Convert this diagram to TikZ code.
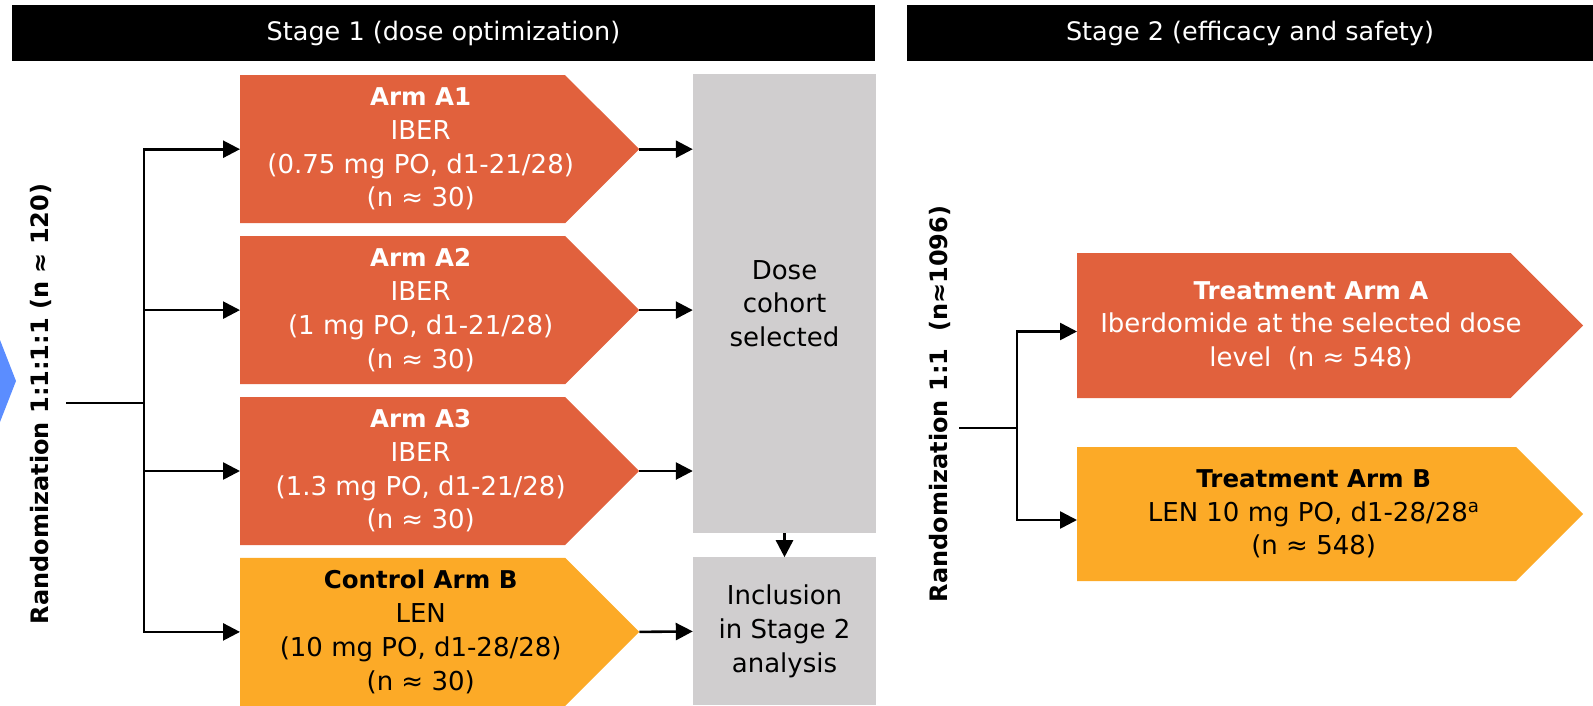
\documentclass[tikz,border=0pt]{standalone}
\usepackage{fontspec}
\setmainfont{DejaVu Sans}
\usepackage{tikz}
\usetikzlibrary{arrows.meta,positioning,shapes.symbols,calc}
\definecolor{armred}{RGB}{225,97,61}
\definecolor{armgold}{RGB}{252,170,39}
\definecolor{boxgrey}{RGB}{208,206,207}
\definecolor{prevblue}{RGB}{91,141,255}
\newcommand{\armhead}[1]{{\fontsize{24.5}{33.7}\selectfont\bfseries #1}}
\tikzset{
  txt/.style      ={font=\fontsize{26}{33.7}\selectfont},
  header/.style   ={font=\fontsize{25.5}{30}\selectfont,fill=black,text=white,minimum height=56pt,inner sep=0pt},
  armbox/.style   ={shape=signal,signal to=east,signal pointer angle=90,inner sep=0pt,
                    minimum width=399pt,minimum height=148pt},
  redarm/.style   ={armbox,fill=armred},
  goldarm/.style  ={armbox,fill=armgold},
  armtxt/.style   ={txt,align=center,inner sep=0pt},
  greybox/.style  ={txt,fill=boxgrey,align=center,minimum width=183pt,inner sep=0pt},
  randlabel/.style={font=\fontsize{24}{30}\selectfont\bfseries,rotate=90},
  link/.style     ={line width=2.6pt},
  arrow/.style    ={link,-{Triangle[length=17pt,width=17pt]}}
}

\begin{document}
\begin{tikzpicture}[x=1pt,y=-1pt]
    \useasboundingbox (0,0) rectangle (1593,705);
    \node[header,minimum width=863pt] (st1) at (443.5,33) {Stage 1 (dose optimization)};
    \node[header,minimum width=686pt] (st2) at (1250,33) {Stage 2 (efficacy and safety)};
    \fill[prevblue] (0,340) -- (16,381) -- (0,422) -- cycle;
    \node[randlabel] (r1) at (41,404) {Randomization 1:1:1:1 (n ≈ 120)};
    \node[redarm,anchor=north west] (a1) at (240,75) {};
    \node[redarm,below=12.5pt of a1]  (a2) {};
    \node[redarm,below=12.5pt of a2]  (a3) {};
    \node[goldarm,below=12.5pt of a3] (cb) {};
    \node[armtxt,text=white] (a1t) at ([xshift=18pt]a1.center) {\armhead{Arm A1}\\IBER\\(0.75 mg PO, d1-21/28)\\(n ≈ 30)};
    \node[armtxt,text=white] (a2t) at ([xshift=18pt]a2.center) {\armhead{Arm A2}\\IBER\\(1 mg PO, d1-21/28)\\(n ≈ 30)};
    \node[armtxt,text=white] (a3t) at ([xshift=18pt]a3.center) {\armhead{Arm A3}\\IBER\\(1.3 mg PO, d1-21/28)\\(n ≈ 30)};
    \node[armtxt] (cbt) at ([xshift=18pt]cb.center) {\armhead{Control Arm B}\\LEN\\(10 mg PO, d1-28/28)\\(n ≈ 30)};
    \node[greybox,minimum height=459pt] (g1) at (784.5,303.5) {Dose\\cohort\\selected};
    \node[greybox,minimum height=148pt,below=24pt of g1] (g2) {Inclusion\\in Stage 2\\analysis};
    \coordinate (s1) at (66,403);
    \coordinate (k1) at (144,403);
    \draw[link] (s1) -- (k1);
    \foreach \n in {a1,a2,a3,cb} \draw[arrow] (k1) |- (\n.west);
    \foreach \n in {a1,a2,a3} \draw[arrow] (\n.east) -- (\n.east -| g1.west);
    \draw[arrow] (cb.east) -- (g2.west);
    \draw[arrow] (g1.south) -- (g2.north);
    \node[randlabel] (r2) at (940,404) {Randomization 1:1\ \ (n≈1096)};
    \node[redarm,minimum width=506pt,minimum height=145pt,anchor=west] (ta) at (1077,325.5) {};
    \node[goldarm,minimum width=506pt,minimum height=134pt,anchor=west] (tb) at (1077,514) {};
    \node[armtxt,text=white] (tat) at ([xshift=17pt]ta.center)
      {\armhead{Treatment Arm A}\\Iberdomide at the selected dose\\level\ \ (n ≈ 548)};
    \node[armtxt] (tbt) at ([xshift=17pt]tb.center)
      {\armhead{Treatment Arm B}\\LEN 10 mg PO, d1-28/28\textsuperscript{a}\\(n ≈ 548)};
    \coordinate (s2) at (959,428);
    \coordinate (k2) at (1017,428);
    \draw[link] (s2) -- (k2);
    \draw[arrow] (k2) |- ([yshift=-6pt]ta.west);
    \draw[arrow] (k2) |- ([yshift=-6pt]tb.west);
  \end{tikzpicture}
\end{document}
